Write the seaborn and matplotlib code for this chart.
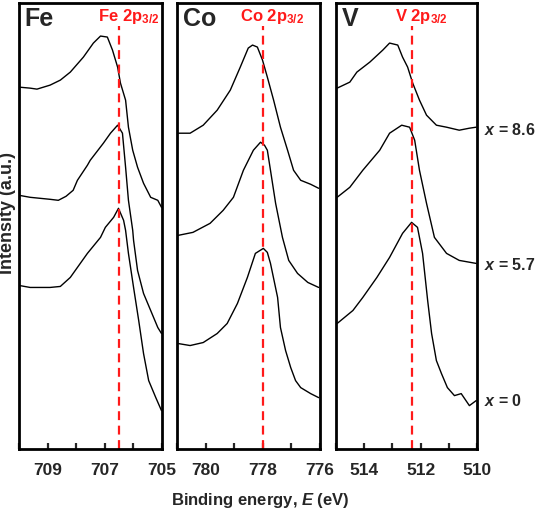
import matplotlib
matplotlib.use("Agg")
import matplotlib.pyplot as plt
import seaborn as sns
import pandas as pd
from matplotlib.ticker import MultipleLocator

sns.set_style("ticks")
plt.rcParams['font.family'] = ['Liberation Sans', 'DejaVu Sans']
plt.rcParams['font.weight'] = 'bold'
plt.rcParams['mathtext.fontset'] = 'custom'
plt.rcParams['mathtext.rm'] = 'Liberation Sans:bold'
plt.rcParams['mathtext.bf'] = 'Liberation Sans:bold'
plt.rcParams['mathtext.it'] = 'Liberation Sans:bold:italic'

# ---------------- data ----------------
elements = ["Fe", "Co", "V"]
series_labels = ["x = 8.6", "x = 5.7", "x = 0"]
peak_lines = [706.5, 778.0, 512.3]
xlims = [(710, 705), (781, 776), (515, 510)]
xticks_major = [[709, 707, 705], [780, 778, 776], [514, 512, 510]]
label_y = [318, 183, 48]

fe_top_E = [710.00, 709.61, 709.37, 708.91, 708.55, 708.20, 707.74, 707.39, 707.14, 706.90, 706.72, 706.54, 706.44, 706.26, 706.16, 706.01, 705.84, 705.63, 705.38, 705.13, 705.00]
fe_top_I = [361, 360, 359, 363, 368, 376, 391, 405, 412, 411, 398, 381, 365, 348, 321, 298, 281, 265, 251, 248, 241]
fe_mid_E = [710.00, 709.61, 709.26, 708.91, 708.62, 708.35, 708.10, 707.95, 707.60, 707.50, 707.04, 706.79, 706.54, 706.37, 706.26, 706.16, 706.01, 705.98, 705.84, 705.63, 705.38, 705.13, 705.00]
fe_mid_I = [253, 251, 250, 249, 248, 252, 258, 268, 283, 288, 305, 315, 323, 315, 281, 248, 218, 208, 178, 155, 138, 121, 115]
fe_bot_E = [710.00, 709.61, 709.26, 708.91, 708.55, 708.20, 707.60, 707.14, 706.97, 706.68, 706.51, 706.33, 706.26, 706.16, 705.98, 705.80, 705.63, 705.45, 705.20, 705.00]
fe_bot_I = [163, 161, 161, 161, 162, 171, 195, 211, 221, 231, 240, 228, 218, 195, 161, 128, 95, 68, 51, 38]

co_top_E = [780.96, 780.54, 780.08, 779.59, 779.13, 778.78, 778.50, 778.35, 778.18, 778.00, 777.83, 777.61, 777.37, 777.12, 776.91, 776.66, 776.31, 776.03]
co_top_I = [315, 315, 323, 338, 358, 381, 400, 403, 401, 388, 371, 348, 321, 298, 278, 268, 264, 260]
co_mid_E = [780.96, 780.44, 779.84, 779.38, 779.02, 778.67, 778.32, 778.07, 777.93, 777.83, 777.72, 777.54, 777.30, 777.08, 776.77, 776.41, 776.03]
co_mid_I = [213, 216, 225, 238, 251, 278, 298, 306, 303, 298, 278, 245, 211, 188, 175, 166, 161]
co_bot_E = [780.96, 780.54, 780.08, 779.59, 779.24, 778.88, 778.53, 778.25, 777.97, 777.83, 777.72, 777.47, 777.37, 777.19, 777.01, 776.84, 776.66, 776.31, 776.03]
co_bot_I = [105, 103, 106, 115, 125, 145, 171, 195, 200, 196, 185, 151, 121, 98, 81, 68, 61, 55, 51]

v_top_E = [514.96, 514.51, 514.26, 513.80, 513.34, 513.10, 512.81, 512.64, 512.46, 512.28, 512.04, 511.79, 511.44, 511.08, 510.63, 510.27, 510.03]
v_top_I = [360, 366, 376, 386, 398, 405, 403, 391, 381, 365, 348, 333, 323, 321, 318, 320, 321]
v_mid_E = [514.96, 514.51, 514.05, 513.45, 513.10, 512.67, 512.39, 512.21, 512.04, 511.79, 511.51, 511.08, 510.63, 510.03]
v_mid_I = [251, 261, 278, 298, 315, 323, 321, 308, 278, 245, 211, 195, 188, 185]
v_bot_E = [514.96, 514.40, 514.05, 513.55, 513.10, 512.64, 512.32, 512.11, 511.93, 511.75, 511.61, 511.44, 511.26, 511.05, 510.80, 510.56, 510.27, 510.03]
v_bot_I = [125, 138, 151, 171, 191, 215, 226, 221, 195, 148, 115, 88, 75, 61, 53, 55, 43, 48]

curves = {
    "Fe": [(fe_top_E, fe_top_I), (fe_mid_E, fe_mid_I), (fe_bot_E, fe_bot_I)],
    "Co": [(co_top_E, co_top_I), (co_mid_E, co_mid_I), (co_bot_E, co_bot_I)],
    "V": [(v_top_E, v_top_I), (v_mid_E, v_mid_I), (v_bot_E, v_bot_I)],
}

rows = []
for el in elements:
    for lab, (E, I) in zip(series_labels, curves[el]):
        for e, i in zip(E, I):
            rows.append({"element": el, "series": lab, "E": e, "I": i})
df = pd.DataFrame(rows)

# ---------------- figure ----------------
fig = plt.figure(figsize=(5.39, 5.12), dpi=100)
lefts = [19/539, 177/539, 336/539]
widths = [142.5/539, 142.5/539, 141/539]
bottom = (512 - 448.7) / 512
height = (448.7 - 3) / 512

for k, el in enumerate(elements):
    ax = fig.add_axes([lefts[k], bottom, widths[k], height])
    sub = df[df.element == el]
    sns.lineplot(data=sub, x="E", y="I", units="series", estimator=None,
                 color="black", lw=1.0, ax=ax, legend=False, sort=False)
    ax.set_xlim(*xlims[k])
    ax.set_ylim(0, 445)
    ax.set_yticks([])
    ax.set_xticks(xticks_major[k])
    ax.xaxis.set_minor_locator(MultipleLocator(1))
    ax.tick_params(axis='x', which='major', direction='in', length=4, width=1.6,
                   labelsize=12.5, pad=10, top=False)
    ax.tick_params(axis='x', which='minor', direction='in', length=4, width=1.6, top=False)
    for lbl in ax.get_xticklabels():
        lbl.set_fontweight('bold')
    ax.set_xlabel("")
    ax.set_ylabel("")
    for sp in ax.spines.values():
        sp.set_linewidth(2.0)
        sp.set_color("black")
    ax.plot([peak_lines[k], peak_lines[k]], [0, 422], color="#ff1a1a",
            lw=1.6, ls=(0, (4, 2.5)))
    ax.text(0.04, 0.963, el, transform=ax.transAxes, fontsize=18,
            fontweight='bold', ha='left', va='center')
    ax.annotate(el + r" 2p$_{\mathbf{3/2}}$", xy=(peak_lines[k], 0.97),
                xycoords=('data', 'axes fraction'), xytext=(7, 0),
                textcoords='offset points', ha='center', va='center',
                color="#ff1a1a", fontsize=12, fontweight='bold')
    if k == 2:
        for lab, yv in zip(series_labels, label_y):
            ax.annotate(r"$x$ = " + lab.split("= ")[1], xy=(1.0, yv),
                        xycoords=('axes fraction', 'data'), xytext=(5, 0),
                        textcoords='offset points', ha='left', va='center',
                        fontsize=11.5, fontweight='bold')

fig.text(260/539, 1 - 500/512, r"Binding energy, $E$ (eV)", ha='center',
         va='center', fontsize=12, fontweight='bold')
fig.text(8/539, 1 - 213/512, "Intensity (a.u.)", rotation=90, ha='center',
         va='center', fontsize=13, fontweight='bold')

fig.savefig("out.png", dpi=100)
